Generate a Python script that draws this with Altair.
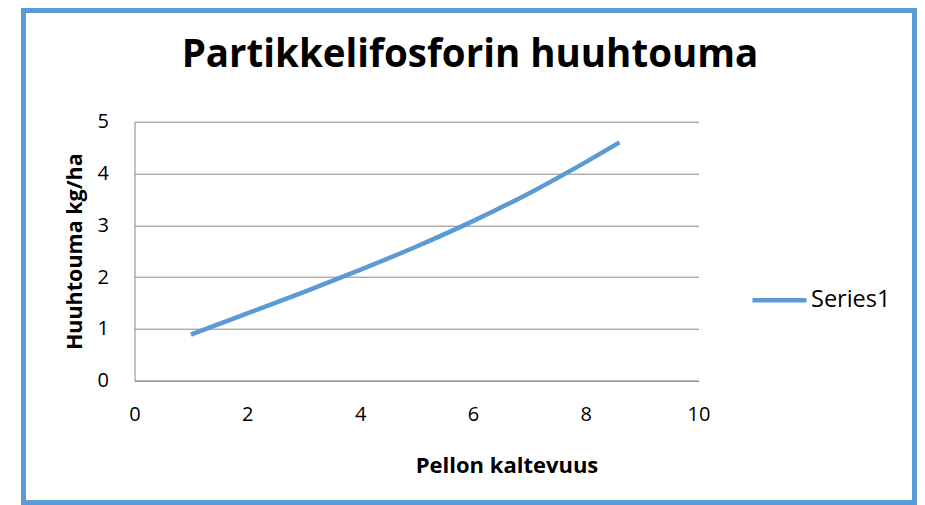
import altair as alt
import pandas as pd

# data
slope = [1, 2, 3, 4, 5, 6, 7, 8, 8.6]
load = [0.89, 1.30, 1.71, 2.14, 2.59, 3.08, 3.62, 4.22, 4.60]
series = ["Series1"] * len(slope)

x_ticks = [0, 2, 4, 6, 8, 10]
y_ticks = [0, 1, 2, 3, 4, 5]

BLUE = "#5B9BD5"
GRID = "#878787"
FONT = "Open Sans"

df = pd.DataFrame({"slope": slope, "load": load, "series": series})

W, H = 564, 259
PAD_L, PAD_T = 126.5, 113.7
TOTAL_W, TOTAL_H = 909, 497

line = alt.Chart(df).mark_line(strokeWidth=4.5, interpolate="monotone").encode(
    x=alt.X("slope:Q",
            scale=alt.Scale(domain=[0, 10], nice=False),
            axis=alt.Axis(values=x_ticks, grid=False, ticks=False,
                          labelFlush=False,
                          title="Pellon kaltevuus", titleX=372, titleY=85,
                          titleFontSize=22,
                          titleAlign="center", titleBaseline="middle",
                          labelPadding=24)),
    y=alt.Y("load:Q",
            scale=alt.Scale(domain=[0, 5], nice=False),
            axis=alt.Axis(values=y_ticks, grid=True, ticks=False,
                          title="Huuhtouma kg/ha", titleX=-59, titleY=129.5,
                          titleFontSize=21.5,
                          titleAlign="center", titleBaseline="middle",
                          titleAngle=-90, labelPadding=26)),
    color=alt.Color("series:N", scale=alt.Scale(range=[BLUE]),
                    legend=alt.Legend(title=None, orient="none",
                                      legendX=615.5, legendY=149,
                                      symbolType="stroke", symbolSize=2916,
                                      symbolStrokeWidth=4.5, labelOffset=2,
                                      padding=0, labelFontSize=23.5,
                                      labelFont=FONT, labelColor="#000000")),
)

frame = alt.Chart(pd.DataFrame({"a": [0]})).mark_rect(
    filled=False, stroke=BLUE, strokeWidth=5
).encode(
    x=alt.value(23.5 - 8 - PAD_L),
    x2=alt.value(TOTAL_W + 8 - 2.5 - 8 - PAD_L),
    y=alt.value(10.5 - 8 - PAD_T),
    y2=alt.value(TOTAL_H + 8 - 2.5 - 8 - PAD_T),
)

chart = alt.layer(line, frame).properties(
    width=W, height=H,
    background="white",
    autosize=alt.AutoSizeParams(type="none"),
    padding={"left": PAD_L, "top": PAD_T,
             "right": TOTAL_W - PAD_L - W, "bottom": TOTAL_H - PAD_T - H},
    title=alt.TitleParams("Partikkelifosforin huuhtouma", fontSize=38.5,
                          font=FONT, fontWeight="bold", color="#000000",
                          anchor="middle", dx=53.5, offset=0, dy=97.5,
                          baseline="alphabetic"),
).configure_view(stroke=None).configure_axis(
    labelFont=FONT, labelFontSize=20, labelColor="#000000",
    titleFont=FONT, titleFontSize=20, titleFontWeight="bold",
    titleColor="#000000", domainColor=GRID, gridColor=GRID,
    domainWidth=1, gridWidth=1,
)

chart.save("out.html", embed_options={"renderer": "svg", "actions": False})
